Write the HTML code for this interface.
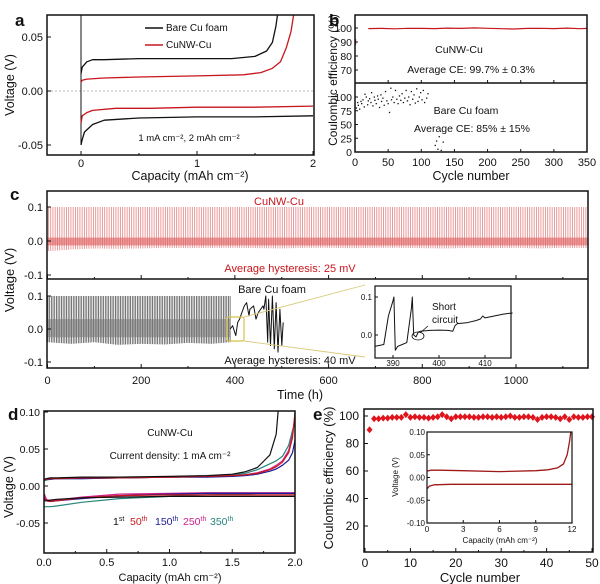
<!DOCTYPE html>
<html><head><meta charset="utf-8"><style>
html,body{margin:0;padding:0;background:#fff;}
svg{display:block;font-family:"Liberation Sans",Arial,sans-serif;}
</style></head><body>
<svg id="fig" width="600" height="584" viewBox="0 0 600 584" xmlns="http://www.w3.org/2000/svg">
<defs>
<clipPath id="clipA"><rect x="47" y="15" width="267" height="140"/></clipPath>
<clipPath id="clipC1"><rect x="47" y="191" width="541" height="88"/></clipPath>
<clipPath id="clipC2"><rect x="47" y="279" width="541" height="89"/></clipPath>
<clipPath id="clipD"><rect x="44" y="411" width="251" height="142"/></clipPath>
</defs>
<g id="layer"></g>
</svg>
<script>
// ---------- DATA ----------
// panel a
const aBlackChgX=[0,0.01,0.05,0.1,0.2,0.5,1,1.3,1.5,1.6,1.65,1.68,1.7];
const aBlackChgV=[0.016,0.022,0.027,0.029,0.029,0.030,0.030,0.030,0.032,0.037,0.045,0.06,0.075];
const aRedChgX=[0,0.01,0.05,0.2,0.5,1,1.4,1.55,1.65,1.72,1.77,1.81,1.84];
const aRedChgV=[0.008,0.010,0.011,0.012,0.013,0.014,0.015,0.017,0.021,0.027,0.04,0.055,0.075];
const aRedDisX=[0,0.01,0.05,0.1,0.3,0.6,1,1.5,2];
const aRedDisV=[-0.03,-0.023,-0.02,-0.018,-0.016,-0.016,-0.015,-0.015,-0.014];
const aBlkDisX=[0,0.01,0.03,0.1,0.2,0.5,1,1.5,2];
const aBlkDisV=[-0.05,-0.045,-0.038,-0.031,-0.027,-0.025,-0.024,-0.024,-0.023];
const aXTicks=[0,1,2];
const aYTicks=[0.05,0,-0.05];
const aYLabels=["0.05","0.00","-0.05"];
// panel b
const bRedCycles=[1,20,40,60,80,100,120,140,160,180,200,220,240,260,280,300,320,340,350];
const bRedCE=[99.5,99.6,99.7,99.4,99.8,99.7,99.6,99.9,99.7,100.1,99.8,99.5,99.3,99.7,99.8,99.6,99.9,99.5,99.7];
const bBareCycles=[2,4,5,7,9,10,12,14,15,17,19,20,22,24,25,27,29,30,32,34,35,37,39,40,42,44,46,48,50,52,54,55,57,59,61,63,65,67,69,71,73,75,77,79,81,83,85,87,89,91,93,95,97,99,101,103,105,108,110,121,123,125,127,130,133];
const bBareCE=[80,90,85,78,92,88,95,82,105,100,86,93,97,90,108,84,100,94,88,102,96,81,104,92,98,85,110,93,88,72,116,95,100,90,112,96,88,102,94,106,90,98,112,93,100,86,110,96,104,89,115,92,100,108,95,112,90,98,106,12,20,5,28,3,18];
const bTopTicks=[100,90,80,70];
const bBotTicks=[100,75,50,25,0];
const bXTicks=[0,50,100,150,200,250,300,350];
// panel c  (envelopes sampled every 50 h)
const cTimes=[0,50,100,150,200,250,300,350,400,450,500,550,600,650,700,750,800,850,900,950,1000,1050,1100,1150];
const cRedLow=[-0.03,-0.025,-0.022,-0.023,-0.022,-0.02,-0.021,-0.02,-0.02,-0.021,-0.022,-0.02,-0.02,-0.021,-0.02,-0.02,-0.021,-0.022,-0.02,-0.021,-0.02,-0.022,-0.02,-0.021];
const cRedHigh=[0.1,0.1,0.1,0.1,0.1,0.1,0.1,0.1,0.1,0.1,0.1,0.1,0.1,0.1,0.1,0.1,0.1,0.1,0.1,0.1,0.1,0.1,0.1,0.1];
const cBareT=[0,50,100,150,200,250,300,350,390];
const cBareLow=[-0.04,-0.045,-0.04,-0.048,-0.045,-0.047,-0.042,-0.045,-0.04];
const cBareHigh=[0.1,0.1,0.1,0.1,0.1,0.1,0.1,0.1,0.1];
const cErrT=[390,395,402,406,410,415,420,425,430,432,440,445,450,455,460,462,466,470,472,476,480,484,488,492,496,500,503];
const cErrV=[0.0,0.01,-0.02,0.02,0.03,0.05,0.07,0.08,0.04,0.06,0.07,0.03,0.05,0.06,0.07,0.06,0.1,-0.04,0.09,-0.05,0.1,-0.06,0.08,-0.07,0.06,-0.05,0.02];
const cInsetT=[386,388,389,390,390.2,390.5,391,392,393,394,394.2,394.5,395,395.5,396,398,400,402,403,403.5,404,406,408,409,409.5,410,412,414,416];
const cInsetV=[-0.03,-0.025,0.05,0.09,0.1,-0.04,-0.03,-0.025,-0.02,0.07,0.1,0.0,-0.005,0.008,0.01,0.012,0.013,0.012,0.01,0.025,0.03,0.032,0.038,0.042,0.05,0.045,0.05,0.055,0.058];
const cXTicks=[0,200,400,600,800,1000];
const cYTicks=[0.1,0,-0.1];
const cYLabels=["0.1","0.0","-0.1"];
const cInsetXTicks=[390,400,410];
// panel d
const dCap=[0,0.02,0.05,0.1,0.3,0.6,1,1.3,1.5,1.6,1.7,1.8,1.85,1.9,1.95,1.98,2.0];
const dChg1=[0.009,0.01,0.011,0.011,0.012,0.012,0.013,0.014,0.016,0.019,0.025,0.042,0.07,null,null,null,null];
const dChg50=[0.008,0.009,0.01,0.01,0.011,0.011,0.012,0.013,0.014,0.015,0.017,0.022,0.026,0.032,0.045,0.065,0.1];
const dChg150=[0.008,0.009,0.009,0.01,0.01,0.011,0.012,0.012,0.013,0.014,0.016,0.02,0.023,0.028,0.035,0.045,0.062];
const dChg250=[0.008,0.009,0.01,0.01,0.011,0.011,0.012,0.013,0.014,0.015,0.018,0.023,0.028,0.034,0.048,0.07,0.095];
const dChg350=[0.007,0.008,0.009,0.01,0.01,0.011,0.012,0.013,0.015,0.017,0.022,0.03,0.034,0.04,0.055,0.075,0.085];
const dDis1=[-0.02,-0.02,-0.019,-0.018,-0.016,-0.015,-0.014,-0.014,-0.014,-0.014,-0.014,-0.014,-0.014,-0.014,-0.014,-0.014,-0.014];
const dDis50=[-0.015,-0.02,-0.021,-0.02,-0.016,-0.013,-0.012,-0.012,-0.012,-0.012,-0.012,-0.012,-0.012,-0.012,-0.012,-0.012,-0.012];
const dDis150=[-0.018,-0.02,-0.021,-0.02,-0.017,-0.013,-0.011,-0.01,-0.01,-0.01,-0.01,-0.01,-0.01,-0.01,-0.01,-0.01,-0.01];
const dDis250=[-0.01,-0.018,-0.02,-0.019,-0.015,-0.011,-0.01,-0.009,-0.009,-0.009,-0.009,-0.009,-0.009,-0.009,-0.009,-0.009,-0.009];
const dDis350=[-0.028,-0.028,-0.028,-0.027,-0.022,-0.017,-0.014,-0.012,-0.011,-0.011,-0.01,-0.01,-0.01,-0.01,-0.01,-0.01,-0.01];
const dXTicks=[0,0.5,1,1.5,2];
const dYTicks=[0.1,0.05,0,-0.05];
const dYLabels=["0.10","0.05","0.00","-0.05"];
// panel e
const eCycles=[1,2,3,4,5,6,7,8,9,10,11,12,13,14,15,16,17,18,19,20,21,22,23,24,25,26,27,28,29,30,31,32,33,34,35,36,37,38,39,40,41,42,43,44,45,46,47,48,49,50];
const eCE=[90,98,98,98.5,98.5,99,99,99,101,99,99.5,99,99,98.5,99,99.5,101,99.5,98,99.5,99.5,99.5,99.5,99,99,99.5,99.5,99,99.5,99,99.5,100,99,99,99.5,99.5,99,97.5,99,99.5,99.5,99,98,99.5,97.5,99.5,99,99,99.5,99.5];
const eInCap=[0,0.3,1,3,6,9,10,10.8,11.3,11.6,11.8,11.9];
const eInChg=[0.014,0.016,0.016,0.015,0.013,0.015,0.017,0.021,0.03,0.05,0.08,0.1];
const eInDisCap=[0,0.2,0.6,2,5,8,11,12];
const eInDis=[-0.025,-0.019,-0.016,-0.015,-0.015,-0.015,-0.015,-0.015];
const eXTicks=[0,10,20,30,40,50];
const eYTicks=[100,80,60,40,20];
const eInXTicks=[0,3,6,9,12];
const eInYTicks=[0.1,0.05,0,-0.05,-0.1];
const eInYLabels=["0.10","0.05","0.00","-0.05","-0.10"];

// ---------- HELPERS ----------
const NS="http://www.w3.org/2000/svg";
const root=document.getElementById('layer');
let layer=root;
function mk(tag,attrs,parent){const e=document.createElementNS(NS,tag);for(const k in attrs)e.setAttribute(k,attrs[k]);(parent||layer).appendChild(e);return e;}
function group(clip,name){const g=mk('g',{'clip-path':'url(#'+clip+')'},root);


return g;}
function lin(d0,d1,r0,r1){return v=>r0+(v-d0)*(r1-r0)/(d1-d0);}
function txt(x,y,s,size,anchor,fill,name,extra){const t=mk('text',Object.assign({x:x,y:y,'font-size':size,'text-anchor':anchor||'middle',fill:fill||'#111'},extra||{}));t.textContent=s;


return t;}
function polyline(xs,ys,sx,sy,color,w,name){let pts=[];for(let i=0;i<xs.length;i++){if(ys[i]===null||ys[i]===undefined)continue;pts.push(sx(xs[i]).toFixed(1)+','+sy(ys[i]).toFixed(1));}
const p=mk('polyline',{points:pts.join(' '),fill:'none',stroke:color,'stroke-width':w,'stroke-linejoin':'round'});


return p;}
function box(x0,y0,x1,y1,name,w){const r=mk('rect',{x:x0,y:y0,width:x1-x0,height:y1-y0,fill:'none',stroke:'#111','stroke-width':w||1.5});


return r;}
function tick(x1,y1,x2,y2){const l=mk('line',{x1:x1,y1:y1,x2:x2,y2:y2,stroke:'#111','stroke-width':1});

}
function interp(ts,vs,t){if(t<=ts[0])return vs[0];for(let i=1;i<ts.length;i++){if(t<=ts[i]){const f=(t-ts[i-1])/(ts[i]-ts[i-1]);return vs[i-1]+f*(vs[i]-vs[i-1]);}}return vs[vs.length-1];}

// ---------- PANEL A ----------
{const L=47,R=314,T=15,B=155;const sx=lin(0,2,81,313),sy=lin(0,0.05,91,37);
txt(15,26,'a',17,'start','#111','panel-label-a',{'font-weight':'bold'});
layer=group('clipA','plot-area-a');
const zl=mk('line',{x1:L,x2:R,y1:sy(0),y2:sy(0),stroke:'#bbb','stroke-width':1,'stroke-dasharray':'2,2'});


const vl=mk('line',{x1:sx(0),x2:sx(0),y1:T,y2:sy(-0.05),stroke:'#111','stroke-width':1});


polyline(aBlackChgX,aBlackChgV,sx,sy,'#111',1.3,'bare-cu-charge-curve');
polyline(aBlkDisX,aBlkDisV,sx,sy,'#111',1.3,'bare-cu-discharge-curve');
polyline(aRedChgX,aRedChgV,sx,sy,'#c8161d',1.3,'cunw-charge-curve');
polyline(aRedDisX,aRedDisV,sx,sy,'#c8161d',1.3,'cunw-discharge-curve');
layer=root;
box(L,T,R,B,'plot-frame-a');
aXTicks.forEach(v=>{tick(sx(v),B,sx(v),B-4);txt(sx(v),167,String(v),11,'middle','#111','x-tick-label');});
[0.5,1.5].forEach(v=>tick(sx(v),B,sx(v),B-2));
aYTicks.forEach((v,i)=>{tick(L,sy(v),L+4,sy(v));txt(L-4,sy(v)+4,aYLabels[i],11,'end','#111','y-tick-label');});
txt(190,180,'Capacity (mAh cm\u207B\u00B2)',12.5,'middle','#111','x-axis-title-a');
txt(14,85,'Voltage (V)',12.5,'middle','#111','y-axis-title-a',{transform:'rotate(-90 14 85)'});
const l1=mk('line',{x1:145,x2:163,y1:28,y2:28,stroke:'#111','stroke-width':1.6});
txt(166,31,'Bare Cu foam',10,'start','#111','legend-entry-bare');
const l2=mk('line',{x1:145,x2:163,y1:45,y2:45,stroke:'#c8161d','stroke-width':1.6});
txt(166,48,'CuNW-Cu',10,'start','#111','legend-entry-cunw');
txt(189,141,'1 mA cm\u207B\u00B2, 2 mAh cm\u207B\u00B2',9.5,'middle','#111','condition-label');
}
// ---------- PANEL B ----------
{const L=355,R=587,T=15,M=83,B=152;const sx=lin(0,350,355,587);const syT=lin(100,70,28,70),syB=lin(100,0,97,152);
txt(329,26,'b',17,'start','#111','panel-label-b',{'font-weight':'bold'});
polyline(bRedCycles.slice(1),bRedCE.slice(1),sx,syT,'#c8161d',1.2,'cunw-ce-line');
const rp=mk('line',{x1:sx(1),x2:sx(1),y1:syT(88),y2:syT(92),stroke:'#c8161d','stroke-width':1});
bBareCycles.forEach((c,i)=>{const d=mk('rect',{x:sx(c)-0.6,y:syB(Math.min(bBareCE[i],123))-0.6,width:1.3,height:1.3,fill:'#111'});

});
box(L,T,R,B,'plot-frame-b');
const dv=mk('line',{x1:L,x2:R,y1:M,y2:M,stroke:'#111','stroke-width':1.5});
bTopTicks.forEach(v=>{tick(L,syT(v),L+3,syT(v));txt(L-3,syT(v)+4,String(v),10.5,'end','#111','y-tick-label');});
bBotTicks.forEach(v=>{tick(L,syB(v),L+3,syB(v));txt(L-3,syB(v)+4,String(v),10.5,'end','#111','y-tick-label');});
bXTicks.forEach(v=>{tick(sx(v),B,sx(v),B-3);tick(sx(v),M,sx(v),M-3);txt(sx(v),166,String(v),11,'middle','#111','x-tick-label');});
txt(471,180,'Cycle number',12.5,'middle','#111','x-axis-title-b');
txt(337,80,'Coulombic efficiency (%)',12,'middle','#111','y-axis-title-b',{transform:'rotate(-90 337 80)'});
txt(459,53,'CuNW-Cu',10.5,'middle','#111','cunw-label-b');
txt(471,73,'Average CE: 99.7% \u00B1 0.3%',10.5,'middle','#111','cunw-average-ce');
txt(466,114,'Bare Cu foam',10.5,'middle','#111','bare-label-b');
txt(472,132,'Average CE: 85% \u00B1 15%',10.5,'middle','#111','bare-average-ce');
}
// ---------- PANEL C ----------
{const L=47,R=588,T=191,M=279,B=368;const sx=lin(0,1000,47.5,516);
const syT=lin(0.1,0,207,241),syB=lin(0.1,0,296,329);
txt(10,200,'c',17,'start','#111','panel-label-c',{'font-weight':'bold'});
layer=group('clipC1','plot-area-c-top');
for(let t=2;t<1154;t+=4.8){const lo=interp(cTimes,cRedLow,t),hi=interp(cTimes,cRedHigh,t);
const s=mk('line',{x1:sx(t),x2:sx(t),y1:syT(hi),y2:syT(lo),stroke:'#e89090','stroke-width':0.9});

}
const band=mk('rect',{x:sx(0),y:syT(0.01),width:sx(1154)-sx(0),height:syT(-0.013)-syT(0.01),fill:'#dd5a5a',opacity:0.6});

layer=group('clipC2','plot-area-c-bottom');
for(let t=1;t<390;t+=3.6){const lo=interp(cBareT,cBareLow,t),hi=interp(cBareT,cBareHigh,t);
const s=mk('line',{x1:sx(t),x2:sx(t),y1:syB(hi),y2:syB(lo),stroke:'#555','stroke-width':0.8});

}
const bb=mk('rect',{x:sx(0),y:syB(0.03),width:sx(390)-sx(0),height:syB(-0.025)-syB(0.03),fill:'#777',opacity:0.55});

polyline(cErrT,cErrV,sx,syB,'#111',1,'bare-failure-trace');
layer=root;
box(L,T,R,B,'plot-frame-c');
const dv=mk('line',{x1:L,x2:R,y1:M,y2:M,stroke:'#111','stroke-width':1.5});
cXTicks.forEach(v=>{tick(sx(v),B,sx(v),B-4);tick(sx(v),M,sx(v),M-4);txt(sx(v),384,String(v),11,'middle','#111','x-tick-label');});
[100,300,500,700,900,1100].forEach(v=>{tick(sx(v),B,sx(v),B-2);tick(sx(v),M,sx(v),M-2);});
cYTicks.forEach((v,i)=>{tick(L,syT(v),L+4,syT(v));txt(L-4,syT(v)+4,cYLabels[i],11,'end','#111','y-tick-label');
tick(L,syB(v),L+4,syB(v));txt(L-4,syB(v)+4,cYLabels[i],11,'end','#111','y-tick-label');});
txt(300,399,'Time (h)',12.5,'middle','#111','x-axis-title-c');
txt(14,280,'Voltage (V)',13,'middle','#111','y-axis-title-c',{transform:'rotate(-90 14 280)'});
txt(279,205,'CuNW-Cu',11,'middle','#c8161d','cunw-label-c');
txt(290,272,'Average hysteresis: 25 mV',11,'middle','#c8161d','cunw-hysteresis');
txt(272,293,'Bare Cu foam',11,'middle','#111','bare-label-c');
txt(290,364,'Average hysteresis: 40 mV',11,'middle','#111','bare-hysteresis');
const zb=mk('rect',{x:227,y:317,width:17,height:24,fill:'none',stroke:'#d8c24a','stroke-width':1.2,rx:2});
const z1=mk('line',{x1:244,y1:317,x2:365,y2:285,stroke:'#d8c97a','stroke-width':0.9});
const z2=mk('line',{x1:244,y1:341,x2:365,y2:357,stroke:'#d8c97a','stroke-width':0.9});
const iL=375,iR=511,iT=286,iB=358;const ix=lin(390,410,393,485),iy=lin(0.1,0,297,335);
const ibg=mk('rect',{x:iL,y:iT,width:iR-iL,height:iB-iT,fill:'#fff'});
polyline(cInsetT,cInsetV,ix,iy,'#111',1,'inset-voltage-trace');
box(iL,iT,iR,iB,'inset-frame-c',1.2);
cInsetXTicks.forEach(v=>{tick(ix(v),iB,ix(v),iB-3);txt(ix(v),366,String(v),8,'middle','#111','inset-x-tick-label');});
[0.1,0].forEach((v,i)=>{tick(iL,iy(v),iL+3,iy(v));txt(iL-3,iy(v)+3,['0.1','0.0'][i],8,'end','#111','inset-y-tick-label');});
txt(432,310,'Short',10,'start','#111','short-circuit-label');
txt(432,323,'circuit',10,'start','#111','short-circuit-label-2');
const ar=mk('line',{x1:428,y1:326,x2:420,y2:333,stroke:'#111','stroke-width':0.8});
const el=mk('ellipse',{cx:418,cy:336,rx:6,ry:4,fill:'none',stroke:'#111','stroke-width':0.8});
}
// ---------- PANEL D ----------
{const L=44,R=295,T=411,B=553;const sx=lin(0,2,44,295),sy=lin(0,0.05,486,449);
txt(8,420,'d',17,'start','#111','panel-label-d',{'font-weight':'bold'});
const cols=['#111','#c8161d','#1c1c9a','#d0208a','#25857c'];
const chg=[dChg1,dChg50,dChg150,dChg250,dChg350],dis=[dDis1,dDis50,dDis150,dDis250,dDis350];
const nm=['1st','50th','150th','250th','350th'];
layer=group('clipD','plot-area-d');
for(let k=4;k>=0;k--){polyline(dCap,chg[k],sx,sy,cols[k],1.2,'charge-curve-'+nm[k]);polyline(dCap,dis[k],sx,sy,cols[k],1.2,'discharge-curve-'+nm[k]);}
polyline([1.85,1.87],[0.07,0.11],sx,sy,'#111',1.2,'charge-curve-1st-end');
layer=root;
box(L,T,R,B,'plot-frame-d');
dXTicks.forEach(v=>{tick(sx(v),B,sx(v),B-4);txt(sx(v),566,v.toFixed(1),11,'middle','#111','x-tick-label');});
[0.25,0.75,1.25,1.75].forEach(v=>tick(sx(v),B,sx(v),B-2));
dYTicks.forEach((v,i)=>{tick(L,sy(v),L+4,sy(v));txt(L-4,sy(v)+4,dYLabels[i],10.5,'end','#111','y-tick-label');});
txt(170,581,'Capacity (mAh cm\u207B\u00B2)',11,'middle','#111','x-axis-title-d');
txt(13,487,'Voltage (V)',12.5,'middle','#111','y-axis-title-d',{transform:'rotate(-90 13 487)'});
txt(170,436,'CuNW-Cu',10,'middle','#111','cunw-label-d');
txt(170,459,'Current density: 1 mA cm\u207B\u00B2',10,'middle','#111','current-density-label');
const lx=[113,130,155,183,210];const sup=['st','th','th','th','th'];const base=['1','50','150','250','350'];
for(let k=0;k<5;k++){const t=txt(lx[k],525,base[k],10.5,'start',cols[k],'legend-entry-'+nm[k]);
const s=mk('tspan',{dy:-4,'font-size':7});s.textContent=sup[k];t.appendChild(s);}
}
// ---------- PANEL E ----------
{const L=364,R=593,T=409,B=552;const sx=lin(0,50,365,592),sy=lin(100,20,416,526);
txt(313,420,'e',17,'start','#111','panel-label-e',{'font-weight':'bold'});
eCycles.forEach((c,i)=>{const x=sx(c),y=sy(eCE[i]);const d=mk('path',{d:`M${x} ${y-3.5}L${x+3} ${y}L${x} ${y+3.5}L${x-3} ${y}Z`,fill:'#e0141c'});

});
box(L,T,R,B,'plot-frame-e');
eXTicks.forEach(v=>{tick(sx(v),B,sx(v),B-4);txt(sx(v),567,String(v),12,'middle','#111','x-tick-label');});
[5,15,25,35,45].forEach(v=>tick(sx(v),B,sx(v),B-2));
eYTicks.forEach(v=>{tick(L,sy(v),L+4,sy(v));txt(L-5,sy(v)+4,String(v),12,'end','#111','y-tick-label');});
txt(480,582,'Cycle number',13,'middle','#111','x-axis-title-e');
txt(333,478,'Coulombic efficiency (%)',13,'middle','#111','y-axis-title-e',{transform:'rotate(-90 333 478)'});
const iL=427,iR=572,iT=432,iB=523;const ix=lin(0,12,iL,iR),iy=lin(0.1,-0.1,iT,iB);
polyline(eInCap,eInChg,ix,iy,'#a01818',1.3,'inset-charge-curve');
polyline(eInDisCap,eInDis,ix,iy,'#a01818',1.3,'inset-discharge-curve');
box(iL,iT,iR,iB,'inset-frame-e',1.2);
eInXTicks.forEach(v=>{tick(ix(v),iB,ix(v),iB-3);txt(ix(v),532,String(v),8,'middle','#111','inset-x-tick-label');});
eInYTicks.forEach((v,i)=>{tick(iL,iy(v),iL+3,iy(v));txt(iL-2,iy(v)+3,eInYLabels[i],8,'end','#111','inset-y-tick-label');});
txt(500,543,'Capacity (mAh cm\u207B\u00B2)',8,'middle','#111','inset-x-axis-title');
txt(398,477,'Voltage (V)',8,'middle','#111','inset-y-axis-title',{transform:'rotate(-90 398 477)'});
}
</script>
</body></html>
